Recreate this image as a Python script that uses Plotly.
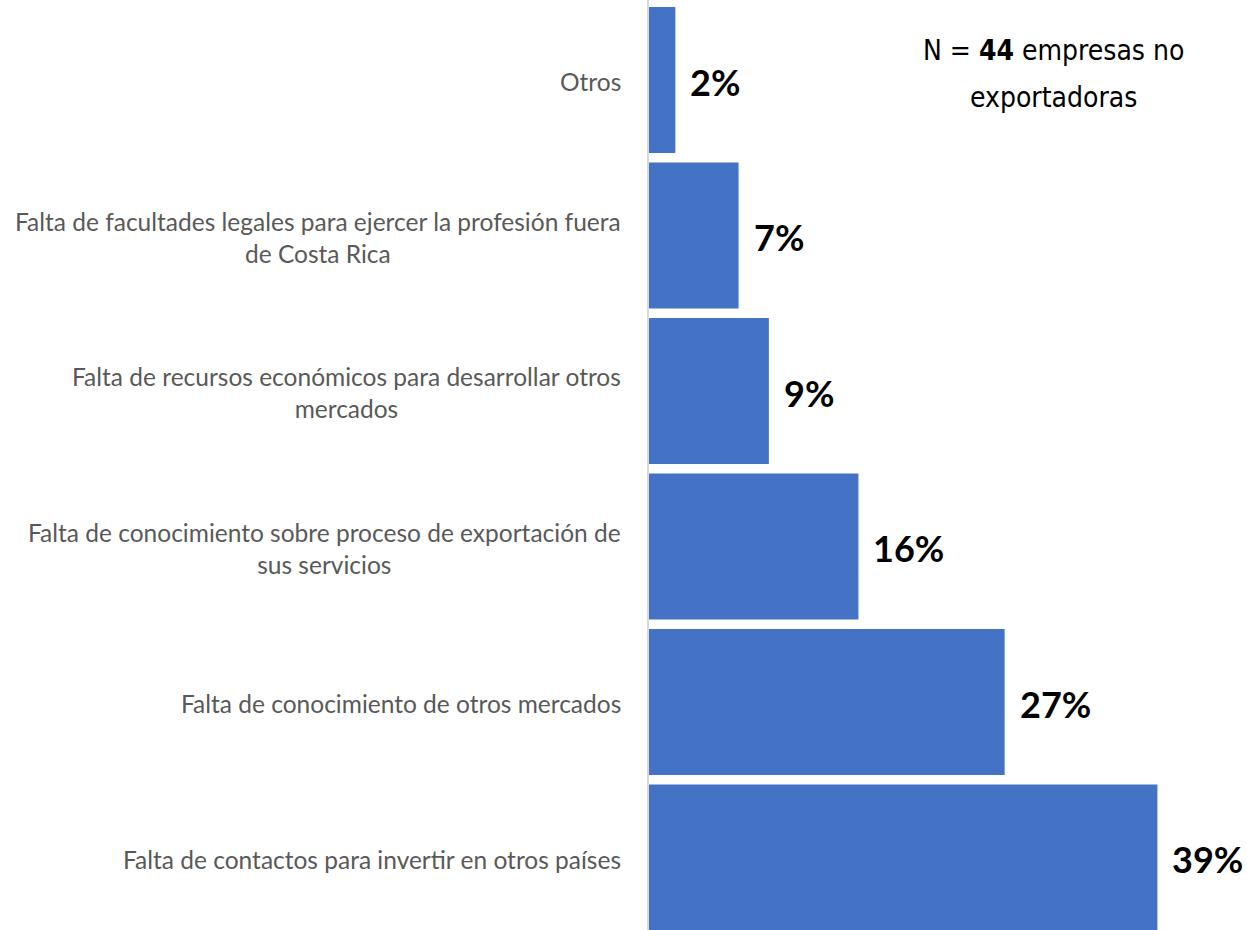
import plotly.graph_objects as go

# Data (bottom to top)
categories = [
    "Falta de contactos para invertir en otros países",
    "Falta de conocimiento de otros mercados",
    "Falta de conocimiento sobre proceso de exportación de<br>sus servicios",
    "Falta de recursos económicos para desarrollar otros<br>mercados",
    "Falta de facultades legales para ejercer la profesión fuera<br>de Costa Rica",
    "Otros",
]
values = [38.6, 27.0, 15.9, 9.1, 6.8, 2.0]
value_labels = ["39%", "27%", "16%", "9%", "7%", "2%"]

n_line1 = "N = <b>44</b> empresas no"
n_line2 = "exportadoras"

BAR = "#4472C4"

fig = go.Figure(
    go.Bar(
        y=categories,
        x=values,
        orientation="h",
        marker=dict(color=BAR, line=dict(width=0)),
        hoverinfo="skip",
    )
)

annotations = []
for cat, v, lab in zip(categories, values, value_labels):
    annotations.append(dict(
        x=v, y=cat, xref="x", yref="y", text=lab, showarrow=False,
        xanchor="left", yanchor="middle", xshift=13, yshift=-2,
        font=dict(family="Lato, Open Sans, sans-serif", size=36, color="#000000", weight="bold"),
    ))
    annotations.append(dict(
        x=0, y=cat, xref="paper", yref="y", text=cat, showarrow=False,
        xanchor="right", yanchor="middle", xshift=-26, yshift=-2, align="center",
        font=dict(family="Lato, Open Sans, sans-serif", size=24.5, color="#595959"),
    ))

cond = "DejaVu Sans Condensed, Liberation Sans Narrow, sans-serif"
annotations.append(dict(
    x=0.677, y=0.946, xref="paper", yref="paper", text=n_line1, showarrow=False,
    xanchor="center", yanchor="middle", font=dict(family=cond, size=28, color="#000000"),
))
annotations.append(dict(
    x=0.677, y=0.895, xref="paper", yref="paper", text=n_line2, showarrow=False,
    xanchor="center", yanchor="middle", font=dict(family=cond, size=28, color="#000000"),
))

fig.update_layout(
    width=1247, height=930,
    margin=dict(l=649, r=0, t=0, b=0),
    paper_bgcolor="white", plot_bgcolor="white",
    bargap=0.061,
    showlegend=False,
    annotations=annotations,
    xaxis=dict(range=[0, 45.4], visible=False, fixedrange=True),
    yaxis=dict(
        range=[-0.467, 5.514], showticklabels=False, ticks="",
        showgrid=False, zeroline=False,
        showline=True, linecolor="#D9D9D9", linewidth=2, fixedrange=True,
    ),
)

fig.write_html(
    "out.html",
    config={"displayModeBar": False},
    post_script="document.body.style.margin='0';document.body.style.overflow='hidden';",
)
